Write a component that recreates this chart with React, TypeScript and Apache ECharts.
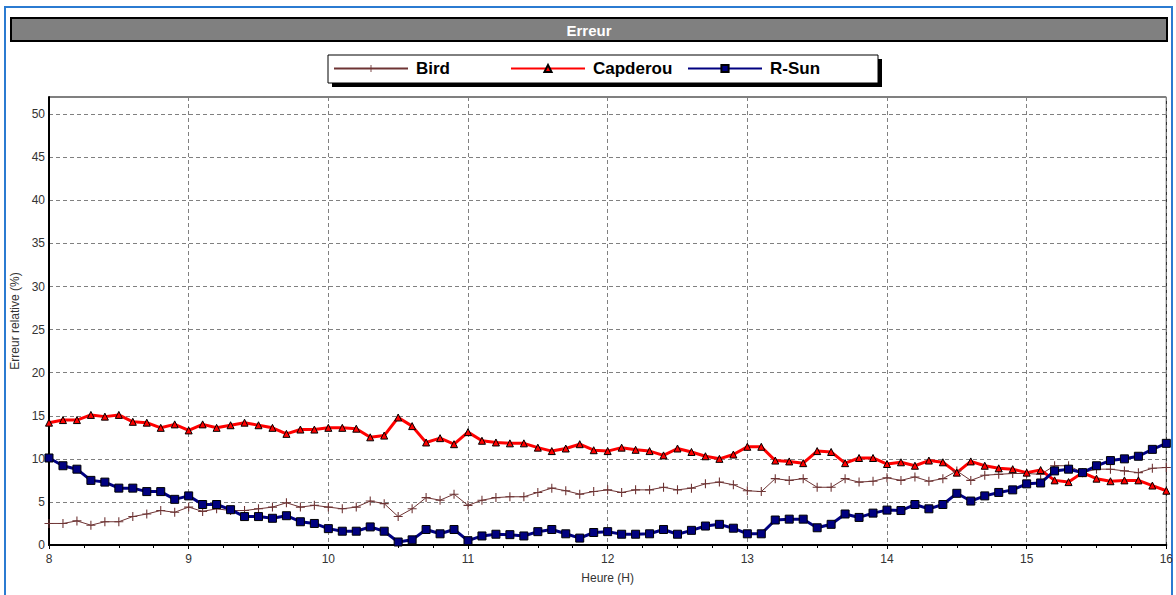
import React, { useEffect, useRef } from "react";
import * as echarts from "echarts";

const hours = [
  8.0, 8.1, 8.2, 8.3, 8.4, 8.5, 8.6, 8.7, 8.8, 8.9,
  9.0, 9.1, 9.2, 9.3, 9.4, 9.5, 9.6, 9.7, 9.8, 9.9,
  10.0, 10.1, 10.2, 10.3, 10.4, 10.5, 10.6, 10.7, 10.8, 10.9,
  11.0, 11.1, 11.2, 11.3, 11.4, 11.5, 11.6, 11.7, 11.8, 11.9,
  12.0, 12.1, 12.2, 12.3, 12.4, 12.5, 12.6, 12.7, 12.8, 12.9,
  13.0, 13.1, 13.2, 13.3, 13.4, 13.5, 13.6, 13.7, 13.8, 13.9,
  14.0, 14.1, 14.2, 14.3, 14.4, 14.5, 14.6, 14.7, 14.8, 14.9,
  15.0, 15.1, 15.2, 15.3, 15.4, 15.5, 15.6, 15.7, 15.8, 15.9,
  16.0,
];

const bird = [
  2.5, 2.5, 2.8, 2.3, 2.7, 2.7, 3.3, 3.6, 4.0, 3.8,
  4.4, 3.9, 4.2, 4.0, 4.0, 4.2, 4.4, 4.9, 4.4, 4.6,
  4.4, 4.2, 4.4, 5.1, 4.8, 3.3, 4.2, 5.5, 5.2, 5.9,
  4.6, 5.2, 5.5, 5.6, 5.6, 6.1, 6.6, 6.3, 5.9, 6.2,
  6.4, 6.1, 6.4, 6.4, 6.7, 6.4, 6.6, 7.1, 7.3, 7.0,
  6.3, 6.2, 7.7, 7.5, 7.7, 6.7, 6.7, 7.7, 7.3, 7.4,
  7.8, 7.5, 7.9, 7.4, 7.7, 8.6, 7.5, 8.1, 8.2, 8.3,
  8.3, 8.2, 9.2, 9.2, 8.4, 8.8, 8.8, 8.6, 8.4, 8.9,
  9.0,
];

const capderou = [
  14.2, 14.5, 14.5, 15.1, 14.9, 15.1, 14.3, 14.2, 13.6, 14.0,
  13.3, 14.0, 13.6, 13.9, 14.2, 13.9, 13.6, 12.9, 13.4, 13.4,
  13.6, 13.6, 13.5, 12.5, 12.7, 14.8, 13.8, 11.9, 12.4, 11.7,
  13.1, 12.1, 11.9, 11.8, 11.8, 11.3, 10.9, 11.2, 11.7, 11.0,
  10.9, 11.3, 11.05, 10.9, 10.4, 11.2, 10.8, 10.3, 10.0, 10.5,
  11.4, 11.4, 9.8, 9.7, 9.5, 10.9, 10.8, 9.5, 10.1, 10.1,
  9.4, 9.6, 9.2, 9.8, 9.6, 8.4, 9.7, 9.2, 8.9, 8.8,
  8.4, 8.7, 7.5, 7.3, 8.4, 7.7, 7.4, 7.5, 7.5, 6.9,
  6.3,
];

const rsun = [
  10.1, 9.2, 8.8, 7.5, 7.3, 6.6, 6.6, 6.2, 6.2, 5.3,
  5.7, 4.7, 4.7, 4.1, 3.3, 3.3, 3.1, 3.4, 2.7, 2.5,
  1.9, 1.6, 1.6, 2.1, 1.6, 0.35, 0.6, 1.8, 1.3, 1.8,
  0.5, 1.05, 1.25, 1.2, 1.05, 1.55, 1.8, 1.3, 0.8, 1.45,
  1.55, 1.25, 1.25, 1.3, 1.8, 1.25, 1.7, 2.2, 2.4, 1.95,
  1.3, 1.3, 2.9, 3.0, 3.0, 2.0, 2.4, 3.6, 3.2, 3.7,
  4.05, 4.0, 4.7, 4.2, 4.7, 6.0, 5.1, 5.7, 6.1, 6.4,
  7.1, 7.2, 8.6, 8.8, 8.4, 9.2, 9.8, 10.0, 10.3, 11.1,
  11.8,
];

const seriesNames = ["Bird", "Capderou", "R-Sun"];
const titleText = "Erreur";
const xAxisName = "Heure (H)";
const yAxisName = "Erreur relative (%)";

const FONT = "'Liberation Sans', Arial, sans-serif";
const PLUS =
  "path://M4.4,0 L5.6,0 L5.6,4.4 L10,4.4 L10,5.6 L5.6,5.6 L5.6,10 L4.4,10 L4.4,5.6 L0,5.6 L0,4.4 L4.4,4.4 Z";

export default function App() {
  const ref = useRef<HTMLDivElement>(null);

  useEffect(() => {
    document.body.style.margin = "0";
    if (!ref.current) return;
    const chart = echarts.init(ref.current, null, { renderer: "svg" });

    const pairs = (vals: number[]) => hours.map((h, i) => [h, vals[i]]);

    const legendBase = {
      top: 60,
      itemWidth: 74,
      itemHeight: 9,
      itemGap: 0,
      padding: 0,
      textStyle: { fontFamily: FONT, fontSize: 17, fontWeight: "bold", color: "#000", padding: [0, 0, 0, 3] },
    };

    chart.setOption({
      animation: false,
      backgroundColor: "#fff",
      graphic: [
        {
          type: "rect",
          shape: { x: 5, y: 7, width: 1167, height: 600 },
          style: { fill: "none", stroke: "#2b7bd1", lineWidth: 2 },
          silent: true,
        },
        {
          type: "rect",
          shape: { x: 11, y: 18, width: 1156, height: 23 },
          style: { fill: "#808080", stroke: "#000", lineWidth: 2 },
          silent: true,
        },
        {
          type: "text",
          x: 589,
          y: 30,
          style: {
            text: titleText,
            fill: "#fff",
            font: `bold 15px ${FONT}`,
            align: "center",
            verticalAlign: "middle",
          },
          silent: true,
        },
        {
          type: "rect",
          shape: { x: 332, y: 59, width: 550, height: 28 },
          style: { fill: "#000" },
          silent: true,
        },
        {
          type: "rect",
          shape: { x: 328, y: 55, width: 550, height: 28 },
          style: { fill: "#fff", stroke: "#000", lineWidth: 1 },
          silent: true,
        },
      ],
      legend: [
        { ...legendBase, left: 333, data: [seriesNames[0]] },
        { ...legendBase, left: 510, data: [seriesNames[1]] },
        { ...legendBase, left: 687, data: [seriesNames[2]] },
      ],
      grid: {
        left: 49,
        right: 9,
        top: 97,
        bottom: 50,
        show: true,
        borderColor: "#000",
        borderWidth: 1,
        backgroundColor: "#fff",
      },
      xAxis: {
        type: "value",
        min: 8,
        max: 16,
        interval: 1,
        name: xAxisName,
        nameLocation: "middle",
        nameGap: 27,
        nameTextStyle: { fontFamily: FONT, fontSize: 12, color: "#333" },
        axisLine: { show: true, lineStyle: { color: "#000", width: 2 } },
        axisTick: { show: true, length: 4, lineStyle: { color: "#000" } },
        minorTick: { show: true, splitNumber: 4, length: 3, lineStyle: { color: "#000" } },
        axisLabel: { fontFamily: FONT, fontSize: 12, color: "#333", margin: 8 },
        splitLine: { show: true, lineStyle: { color: "#808080", type: [4, 3], width: 1 } },
      },
      yAxis: {
        type: "value",
        min: 0,
        max: 52,
        interval: 5,
        name: yAxisName,
        nameLocation: "middle",
        nameGap: 25,
        nameTextStyle: { fontFamily: FONT, fontSize: 12, color: "#333" },
        axisLine: { show: true, lineStyle: { color: "#000", width: 2 } },
        axisTick: { show: false },
        axisLabel: {
          fontFamily: FONT,
          fontSize: 12,
          color: "#333",
          margin: 4,
          formatter: (v: number) => (v % 5 === 0 ? String(v) : ""),
        },
        splitLine: { show: true, lineStyle: { color: "#808080", type: [4, 3], width: 1 } },
      },
      series: [
        {
          name: seriesNames[0],
          type: "line",
          data: pairs(bird),
          symbol: PLUS,
          symbolSize: 9,
          showAllSymbol: true,
          lineStyle: { color: "#6e3434", width: 1 },
          itemStyle: { color: "#6e3434", borderWidth: 0 },
        },
        {
          name: seriesNames[1],
          type: "line",
          data: pairs(capderou),
          symbol: "triangle",
          symbolSize: 7,
          showAllSymbol: true,
          lineStyle: { color: "#ff0000", width: 3 },
          itemStyle: { color: "#ff0000", borderColor: "#000", borderWidth: 1 },
        },
        {
          name: seriesNames[2],
          type: "line",
          data: pairs(rsun),
          symbol: "rect",
          symbolSize: 8,
          showAllSymbol: true,
          lineStyle: { color: "#000080", width: 3 },
          itemStyle: { color: "#000080", borderColor: "#000", borderWidth: 1 },
        },
      ],
    });

    return () => chart.dispose();
  }, []);

  return <div ref={ref} style={{ width: 1176, height: 595 }} />;
}
